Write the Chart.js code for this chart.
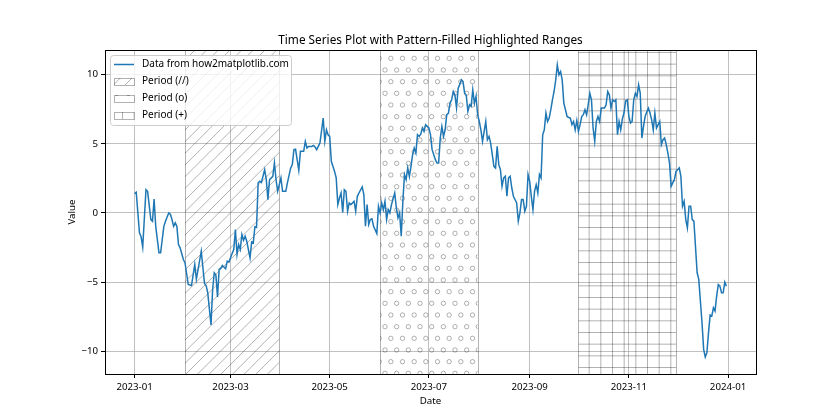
<!DOCTYPE html>
<html>
<head>
<meta charset="utf-8">
<script src="https://cdn.jsdelivr.net/npm/chart.js@4.4.1/dist/chart.umd.min.js"></script>
<style>
  html, body { margin: 0; padding: 0; background: #fff; }
  #wrap { width: 840px; height: 420px; }
</style>
</head>
<body>
<div id="wrap"><canvas id="ts-chart" width="840" height="420"></canvas></div>
<script>
// days since 2023-01-01, and the value for that day
const dayOffsets = [
    0, 1, 3, 4, 5, 7, 8, 10, 11, 12, 13, 15, 16, 18, 19, 21, 22, 23, 24, 25, 26, 27, 28, 30, 31,
    32, 33, 35, 37, 38, 41, 43, 44, 45, 47, 48, 49, 50, 51, 52, 53, 54, 56, 57, 58, 60, 61, 62, 63, 64,
    65, 66, 67, 68, 69, 71, 72, 73, 74, 75, 76, 77, 78, 80, 81, 82, 83, 85, 86, 87, 88, 90, 91, 93, 94,
    96, 97, 98, 99, 101, 102, 104, 105, 106, 107, 109, 110, 111, 112, 114, 116, 117, 118, 119, 120, 121, 123, 124, 125,
    126, 127, 128, 129, 130, 131, 132, 133, 135, 136, 137, 138, 140, 141, 142, 143, 144, 145, 146, 147, 149, 150,
    151, 152, 153, 154, 155, 156, 157, 158, 160, 161, 162, 163, 164, 165, 166, 167, 168, 169, 170, 171, 172, 173,
    174, 175, 176, 177, 178, 179, 181, 182, 183, 184, 185, 186, 187, 188, 189, 190, 191, 192, 193, 194, 195, 196,
    197, 198, 199, 201, 202, 203, 204, 205, 206, 207, 208, 209, 210, 211, 212, 213, 214, 216, 217, 218, 219, 220,
    221, 222, 223, 224, 225, 226, 227, 228, 229, 230, 231, 232, 233, 235, 236, 237, 238, 239, 240, 241, 242, 243,
    244, 245, 246, 247, 248, 249, 250, 251, 252, 253, 254, 255, 256, 257, 258, 259, 260, 261, 262, 263, 264, 265,
    266, 267, 268, 269, 270, 271, 272, 273, 274, 275, 276, 277, 278, 279, 280, 281, 282, 283, 284, 285, 286, 287,
    289, 290, 291, 292, 293, 294, 295, 296, 297, 298, 299, 300, 301, 302, 303, 304, 305, 306, 307, 308, 309, 310,
    311, 312, 313, 314, 315, 316, 317, 318, 319, 320, 321, 322, 323, 324, 325, 326, 327, 328, 329, 330, 331, 332,
    333, 335, 336, 337, 338, 339, 340, 341, 342, 343, 344, 346, 347, 349, 350, 351, 352, 353, 354, 355, 356, 357,
    358, 359, 360, 361, 362, 363, 364
];
const values = [
    1.39, 1.49, -1.44, -1.73, -2.48, 1.68, 1.56, -0.48, -0.6, 1.01, -0.97, -2.89, -2.89, -0.97, -0.6, 0.0, -0.1, -0.48, -0.97, -0.72, -0.97, -2.29, -2.53, -3.37, -3.6,
    -4.4, -5.18, -5.25, -3.73, -4.8, -2.77, -5.1, -5.25, -5.78, -8.1, -5.54, -4.33, -4.5, -6.07, -4.09, -4.0, -3.8, -4.04, -3.49, -3.56, -2.94, -2.65, -1.2, -3.0, -2.29,
    -2.65, -1.57, -1.98, -1.69, -2.05, -3.25, -2.1, -2.17, -1.0, -1.05, 2.17, 2.29, 2.2, 3.13, 2.4, 0.96, 2.4, 2.64, 3.61, 2.4, 1.56, 2.53, 1.56, 1.56, 2.17,
    3.25, 3.49, 4.57, 4.6, 3.08, 4.45, 4.45, 5.17, 4.69, 4.81, 4.81, 4.88, 4.76, 4.57, 5.05, 6.86, 5.17, 6.01, 5.65, 5.53, 3.73, 3.0, 2.53, 0.6,
    1.08, 1.44, 0.04, 1.68, 1.56, 0.12, 0.72, 0.6, 0.84, 0.12, 1.2, 1.44, 1.88, 1.32, -0.97, 0.6, -0.84, -0.48, -0.43, -0.97, -1.5, 0.48,
    0.0, 0.72, 0.24, 0.84, -0.48, 0.24, 0.0, 0.6, 1.44, 0.36, -0.36, 0.0, -1.69, 0.84, 2.77, 2.4, 3.25, 2.64, 3.37, 4.21, 4.69, 4.33,
    5.65, 5.53, 5.7, 6.14, 5.89, 6.38, 6.14, 5.65, 4.57, 4.21, 3.85, 3.61, 3.61, 5.41, 6.25, 5.53, 6.01, 7.1, 7.2, 7.94, 8.18, 8.78,
    8.54, 7.6, 9.0, 9.62, 9.5, 8.66, 8.5, 7.34, 7.82, 7.7, 8.9, 7.94, 8.42, 7.1, 6.61, 6.01, 5.17, 6.61, 5.29, 5.53, 5.05, 4.21,
    3.37, 3.25, 4.81, 3.49, 3.13, 1.92, 2.53, 2.65, 1.2, 2.53, 2.65, 1.8, 1.2, 0.72, -0.6, 0.0, 0.96, 0.96, 0.12, 0.48, 2.77, 2.28,
    1.2, 0.24, 1.56, 2.04, 1.44, 2.77, 2.53, 5.65, 6.01, 7.22, 6.61, 6.86, 7.46, 8.18, 8.78, 9.6, 10.71, 9.99, 10.22, 9.62, 7.94, 7.46,
    6.97, 6.9, 6.86, 6.38, 6.61, 6.01, 6.69, 5.89, 6.38, 6.97, 7.1, 7.46, 7.1, 7.82, 8.66, 8.18, 6.14, 5.17, 6.61, 6.97, 6.61, 7.58,
    7.58, 7.82, 8.78, 8.54, 7.58, 8.18, 8.06, 8.18, 5.65, 6.61, 6.01, 6.8, 7.22, 8.1, 8.18, 7.0, 6.5, 6.61, 8.18, 8.66, 8.42, 9.26,
    8.66, 5.41, 6.25, 6.97, 7.3, 7.58, 7.22, 6.74, 6.01, 7.22, 6.14, 6.38, 6.61, 4.93, 5.29, 5.41, 4.93, 4.33, 3.61, 1.92, 2.17, 2.4,
    3.0, 3.25, 2.64, 0.48, 0.84, -0.48, -1.08, 0.48, 0.48, -0.48, -0.6, -4.33, -4.81, -7.94, -9.87, -10.42, -10.11, -8.66, -7.39, -7.46, -6.86, -7.1,
    -6.02, -5.18, -5.3, -5.78, -5.78, -5.0, -5.3
];

const tickDays = [0, 59, 120, 181, 243, 304, 365];
const tickLabels = ['2023-01', '2023-03', '2023-05', '2023-07', '2023-09', '2023-11', '2024-01'];
const yTicks = [-10, -5, 0, 5, 10];

const periodStarts = [31, 151, 273];
const periodEnds = [89, 211, 333];
const periodLabels = ['Period (//)', 'Period (o)', 'Period (+)'];
const periodHatches = ['//', 'o', '+'];

const seriesLabel = 'Data from how2matplotlib.com';
const chartTitle = 'Time Series Plot with Pattern-Filled Highlighted Ranges';

const FONT = '"Noto Sans", "Open Sans", sans-serif';
const HATCH_COLOR = 'rgba(0,0,0,0.3)';
const TILE = 70;


function makeHatch(ctx, kind) {
    const c = document.createElement('canvas');
    c.width = TILE;
    c.height = TILE;
    const g = c.getContext('2d');
    g.strokeStyle = HATCH_COLOR;
    g.lineWidth = 1;
    if (kind === '//') {
        const n = 12;
        g.beginPath();
        for (let i = 0; i <= n; i++) {
            const s = -0.5 + i / n;
            g.moveTo(s * TILE, TILE + s * TILE);
            g.lineTo((1 + s) * TILE, s * TILE);
        }
        g.stroke();
    } else if (kind === 'o') {
        const n = 6;
        for (let row = 0; row <= n; row++) {
            const cols = [];
            if (row % 2 === 0) {
                for (let k = 0; k <= n; k++) cols.push(k / n);
            } else {
                for (let k = 0; k < n; k++) cols.push(0.5 / n + k / n);
            }
            cols.forEach(cx => {
                g.beginPath();
                g.arc(cx * TILE, TILE - row / n * TILE, 2.2, 0, Math.PI * 2);
                g.stroke();
            });
        }
    } else if (kind === '+') {
        const n = 6;
        g.beginPath();
        for (let k = 0; k < n; k++) {
            const p = (k + 0.5) / n * TILE;
            g.moveTo(0, p);
            g.lineTo(TILE, p);
            g.moveTo(p, 0);
            g.lineTo(p, TILE);
        }
        g.stroke();
    }
    return ctx.createPattern(c, 'repeat');
}


let patterns = [];

const decorPlugin = {
    id: 'decor',
    beforeDatasetsDraw(chart) {
        const {ctx, chartArea: a, scales: {x}} = chart;
        if (!patterns.length) {
            patterns = periodHatches.map(h => makeHatch(ctx, h));
        }
        ctx.save();
        periodStarts.forEach((start, i) => {
            const x1 = x.getPixelForValue(start);
            const x2 = x.getPixelForValue(periodEnds[i]);
            ctx.fillStyle = patterns[i];
            ctx.fillRect(x1, a.top, x2 - x1, a.bottom - a.top);
            ctx.strokeStyle = HATCH_COLOR;
            ctx.lineWidth = 1;
            ctx.beginPath();
            ctx.moveTo(Math.round(x1) + 0.5, a.top);
            ctx.lineTo(Math.round(x1) + 0.5, a.bottom);
            ctx.moveTo(Math.round(x2) + 0.5, a.top);
            ctx.lineTo(Math.round(x2) + 0.5, a.bottom);
            ctx.stroke();
        });
        ctx.restore();
    },
    afterDraw(chart) {
        const {ctx, chartArea: a} = chart;
        ctx.save();

        // axes frame
        ctx.strokeStyle = '#000';
        ctx.lineWidth = 1;
        ctx.strokeRect(Math.round(a.left) + 0.5, Math.round(a.top) + 0.5,
            Math.round(a.right - a.left), Math.round(a.bottom - a.top));

        // title
        ctx.fillStyle = '#000';
        ctx.font = '11.8px ' + FONT;
        ctx.textAlign = 'center';
        ctx.textBaseline = 'alphabetic';
        ctx.fillText(chartTitle, (a.left + a.right) / 2, a.top - 6);

        // legend
        const lx = 110.5, ly = 55.5, lw = 181, lh = 70;
        ctx.beginPath();
        ctx.roundRect(lx, ly, lw, lh, 3);
        ctx.fillStyle = 'rgba(255,255,255,0.8)';
        ctx.fill();
        ctx.strokeStyle = '#cccccc';
        ctx.lineWidth = 1;
        ctx.stroke();

        const rowY = [64.5, 81.5, 98.5, 115.5];
        ctx.strokeStyle = '#1f77b4';
        ctx.lineWidth = 1.5;
        ctx.beginPath();
        ctx.moveTo(114, rowY[0]);
        ctx.lineTo(134, rowY[0]);
        ctx.stroke();

        periodLabels.forEach((label, i) => {
            const cy = rowY[i + 1];
            ctx.fillStyle = patterns[i];
            ctx.fillRect(114, cy - 3.5, 20, 7);
            ctx.strokeStyle = HATCH_COLOR;
            ctx.lineWidth = 1;
            ctx.strokeRect(114.5, Math.round(cy - 3.5) + 0.5, 20, 7);
        });

        ctx.fillStyle = '#000';
        ctx.font = '10px ' + FONT;
        ctx.textAlign = 'left';
        ctx.textBaseline = 'middle';
        ctx.fillText(seriesLabel, 142, rowY[0]);
        periodLabels.forEach((label, i) => ctx.fillText(label, 142, rowY[i + 1]));

        ctx.restore();
    }
};


function initChart() {
    const ctx = document.getElementById('ts-chart').getContext('2d');
    const points = dayOffsets.map((d, i) => ({x: d, y: values[i]}));
    return new Chart(ctx, {
        type: 'line',
        data: {
            datasets: [{
                label: seriesLabel,
                data: points,
                borderColor: '#1f77b4',
                borderWidth: 1.5,
                pointRadius: 0,
                tension: 0,
                fill: false
            }]
        },
        options: {
            responsive: false,
            animation: false,
            devicePixelRatio: 1,
            layout: {
                padding: {left: 0, right: 84, top: 50, bottom: 0}
            },
            scales: {
                x: {
                    type: 'linear',
                    min: -18.2,
                    max: 382.2,
                    afterBuildTicks: scale => {
                        scale.ticks = tickDays.map(v => ({value: v}));
                    },
                    afterFit: scale => {
                        scale.height = 46;
                    },
                    ticks: {
                        autoSkip: false,
                        maxRotation: 0,
                        padding: 3,
                        color: '#000',
                        font: {family: FONT, size: 9.7},
                        callback: v => tickLabels[tickDays.indexOf(v)]
                    },
                    grid: {
                        color: '#b0b0b0',
                        lineWidth: 0.8,
                        tickLength: 4,
                        tickColor: '#000',
                        tickWidth: 1
                    },
                    border: {display: false},
                    title: {
                        display: true,
                        text: 'Date',
                        color: '#000',
                        font: {family: FONT, size: 9.7},
                        padding: {top: 0, bottom: 13}
                    }
                },
                y: {
                    type: 'linear',
                    min: -11.65,
                    max: 11.78,
                    afterBuildTicks: scale => {
                        scale.ticks = yTicks.map(v => ({value: v}));
                    },
                    afterFit: scale => {
                        scale.width = 105;
                    },
                    ticks: {
                        padding: 3,
                        color: '#000',
                        font: {family: FONT, size: 9.7},
                        callback: v => (v < 0 ? '\u2212' + Math.abs(v) : String(v))
                    },
                    grid: {
                        color: '#b0b0b0',
                        lineWidth: 0.8,
                        tickLength: 4,
                        tickColor: '#000',
                        tickWidth: 1
                    },
                    border: {display: false},
                    title: {
                        display: true,
                        text: 'Value',
                        color: '#000',
                        font: {family: FONT, size: 9.7},
                        padding: {top: 66, bottom: 0}
                    }
                }
            },
            plugins: {
                legend: {display: false},
                tooltip: {enabled: false}
            }
        },
        plugins: [decorPlugin]
    });
}


document.addEventListener('DOMContentLoaded', function() {
    initChart();
});
</script>
</body>
</html>
